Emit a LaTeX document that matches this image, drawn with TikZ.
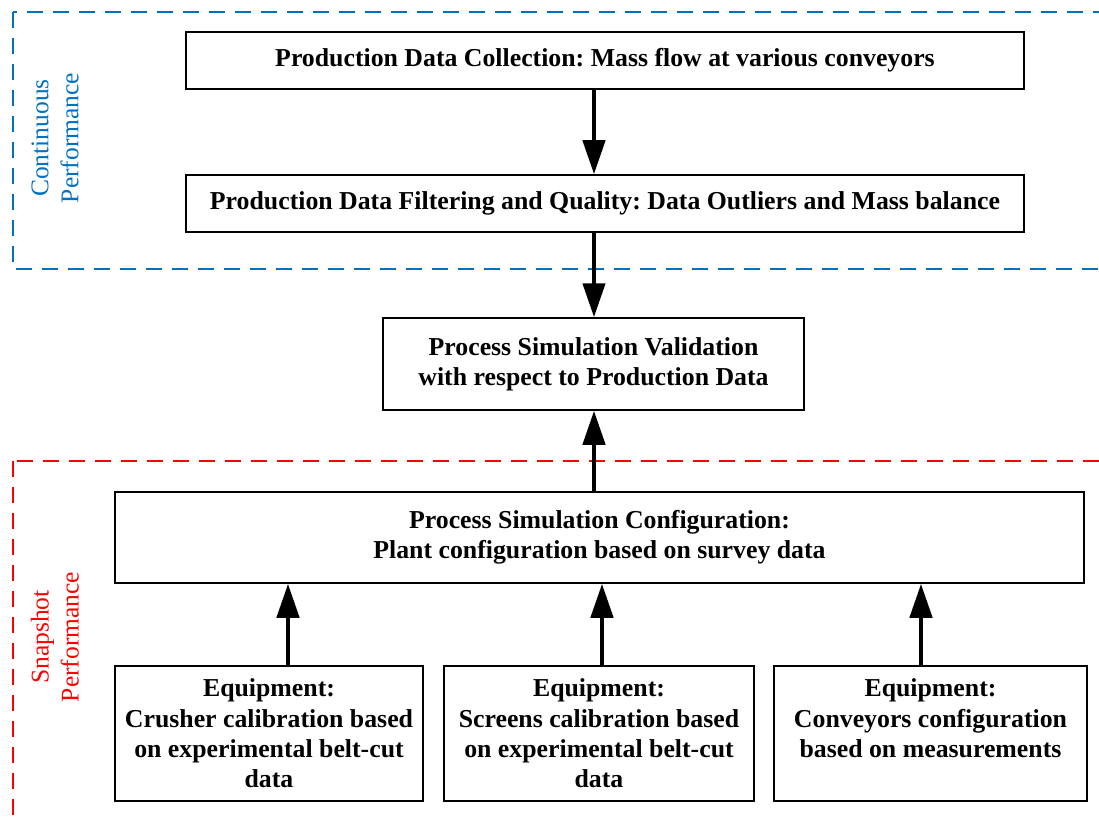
\documentclass[tikz,border=0pt]{standalone}
\usepackage{fontspec}
\setmainfont{Liberation Serif}
\usetikzlibrary{arrows.meta}
\definecolor{cblue}{RGB}{0,112,192}
\definecolor{cred}{RGB}{255,0,0}
\frenchspacing
\begin{document}
\begin{tikzpicture}[x=1bp,y=-1bp,
 box/.style={draw,line width=1.5bp,font=\fontsize{25.8bp}{30.3bp}\selectfont\bfseries,align=center,inner sep=0pt},
 conn/.style={line width=4.5bp,-{Triangle[width=22bp,length=34bp]}},
 group/.style={dash pattern=on 16bp off 10bp,line width=1.5bp},
 glabel/.style={rotate=90,align=center,font=\fontsize{25.5bp}{30bp}\selectfont}]
\useasboundingbox (0,0) rectangle (1099,818);
% groups
\draw[group,cblue] (13,12) rectangle (1110,269);
\draw[group,cred] (13,461) rectangle (1110,830);
\node[glabel,text=cblue] (lc) at (55,138) {Continuous\\Performance};
\node[glabel,text=cred] (ls) at (55,637) {Snapshot\\Performance};
% boxes
\node[box,minimum width=838bp,minimum height=57bp] (b1) at (605,60.5) {Production Data Collection: Mass flow at various conveyors};
\node[box,minimum width=838bp,minimum height=57bp] (b2) at (605,203.5) {Production Data Filtering and Quality: Data Outliers and Mass balance};
\node[box,minimum width=421bp,minimum height=92bp] (b3) at (593.5,364) {Process Simulation Validation\\with respect to Production Data};
\node[box,minimum width=969bp,minimum height=91bp] (b4) at (599.5,537.5) {Process Simulation Configuration:\\Plant configuration based on survey data};
\node[box,minimum width=308bp,minimum height=135bp] (b5) at (269,733.5) {Equipment:\\Crusher calibration based\\on experimental belt-cut\\data};
\node[box,minimum width=310bp,minimum height=135bp] (b6) at (599,733.5) {Equipment:\\Screens calibration based\\on experimental belt-cut\\data};
\node[box,minimum width=313bp,minimum height=135bp] (b7) at (930.5,733.5) {Equipment:\\Conveyors configuration\\based on measurements\\\phantom{data}};
% connector x positions
\coordinate (xm) at (594,0);
\coordinate (x5) at (288,0);
\coordinate (x6) at (602,0);
\coordinate (x7) at (921,0);
\draw[conn] (b1.south -| xm) -- (b2.north -| xm);
\draw[conn] (b2.south -| xm) -- (b3.north -| xm);
\draw[conn] (b4.north -| xm) -- (b3.south -| xm);
\draw[conn] (b5.north -| x5) -- (b4.south -| x5);
\draw[conn] (b6.north -| x6) -- (b4.south -| x6);
\draw[conn] (b7.north -| x7) -- (b4.south -| x7);
\end{tikzpicture}
\end{document}
